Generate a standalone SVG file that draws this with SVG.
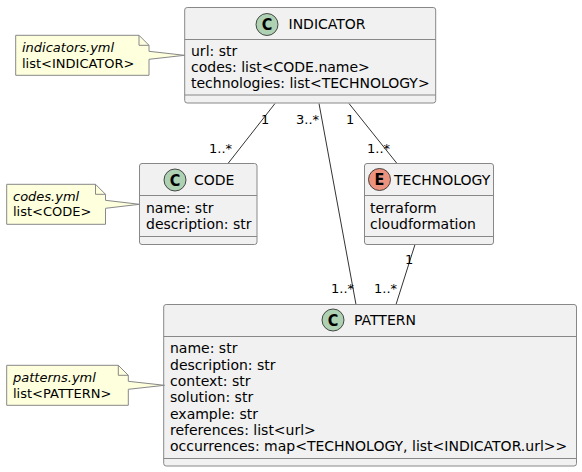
<svg xmlns="http://www.w3.org/2000/svg" width="582" height="472" viewBox="0 0 582 472">
<style>
text{font-family:"DejaVu Sans",sans-serif;font-size:14px;fill:#000}
.box{fill:#F1F1F1;stroke:#888;stroke-width:1}
.sep{stroke:#888;stroke-width:1;fill:none}
.note{fill:#FEFFDD;stroke:#888;stroke-width:1}
.c{fill:#ADD1B2;stroke:#222;stroke-width:.8}
.e{fill:#EB937F;stroke:#222;stroke-width:.8}
text.glyph{font-family:"DejaVu Sans Condensed","DejaVu Sans",sans-serif;font-weight:bold;font-size:16px;text-anchor:middle}
text.n{font-size:13px}
.it{font-style:italic}
text.l{font-size:13px}
.link{stroke:#333;stroke-width:1;fill:none}
</style>
<rect width="582" height="472" fill="#fff"/>
<g id="connectors">
<path class="link" d="M275 103.500L228 163.500"/>
<path class="link" d="M319 103.500L356 304.500"/>
<path class="link" d="M349 103.500L397 163.500"/>
<path class="link" d="M415 244.500L396 304.500"/>
<text class="l" x="261" y="124">1</text><text class="l" x="209" y="153">1..*</text>
<text class="l" x="296" y="124">3..*</text><text class="l" x="331" y="293">1..*</text>
<text class="l" x="346" y="124">1</text><text class="l" x="367" y="153">1..*</text>
<text class="l" x="405" y="264">1</text><text class="l" x="374" y="293">1..*</text>
</g>
<g id="INDICATOR">
<rect class="box" x="184.700" y="7.500" width="251" height="95.500" rx="2.500"/>
<path class="sep" d="M184.700 39.500H435.700M184.700 95H435.700"/>
<circle class="c" cx="267" cy="24.500" r="11"/><text class="glyph" x="267" y="30.300">C</text>
<text x="288.500" y="28.500">INDICATOR</text>
<text x="191" y="56">url: str</text><text x="191" y="72">codes: list&lt;CODE.name&gt;</text><text x="191" y="88">technologies: list&lt;TECHNOLOGY&gt;</text>
</g>
<g id="CODE">
<rect class="box" x="139.500" y="163.500" width="117.500" height="81" rx="2.500"/>
<path class="sep" d="M139.500 195.500H257M139.500 236.500H257"/>
<circle class="c" cx="175" cy="180" r="11"/><text class="glyph" x="175" y="185.800">C</text>
<text x="194" y="185">CODE</text>
<text x="146" y="213">name: str</text><text x="146" y="229">description: str</text>
</g>
<g id="TECHNOLOGY">
<rect class="box" x="364.500" y="163.500" width="129" height="81" rx="2.500"/>
<path class="sep" d="M364.500 195.500H493.500M364.500 236.500H493.500"/>
<circle class="e" cx="379.500" cy="179.500" r="11"/><text class="glyph" x="379.500" y="185.300">E</text>
<text x="394" y="185">TECHNOLOGY</text>
<text x="370" y="213">terraform</text><text x="370" y="229">cloudformation</text>
</g>
<g id="PATTERN">
<rect class="box" x="163.700" y="304.500" width="412.800" height="161.500" rx="2.500"/>
<path class="sep" d="M163.700 336.500H576.500M163.700 458.500H576.500"/>
<circle class="c" cx="333" cy="320" r="11"/><text class="glyph" x="333" y="325.800">C</text>
<text x="354" y="325">PATTERN</text>
<text x="170" y="353">name: str</text><text x="170" y="369.500">description: str</text><text x="170" y="386">context: str</text><text x="170" y="402">solution: str</text><text x="170" y="418.500">example: str</text><text x="170" y="434.500">references: list&lt;url&gt;</text><text x="170" y="451">occurrences: map&lt;TECHNOLOGY, list&lt;INDICATOR.url&gt;&gt;</text>
</g>
<g id="note-indicators">
<path class="note" d="M15.700 35.300H139L149 45.300V51.300L184.500 55.300L149 59.300V75.300H15.700Z"/><path class="sep" d="M139 35.300V45.300H149"/>
<text class="n it" x="22" y="52">indicators.yml</text><text class="n" x="22" y="68">list&lt;INDICATOR&gt;</text>
</g>
<g id="note-codes">
<path class="note" d="M6.700 184.300H95.500L105.500 194.300V200.300L139.500 204.300L105.500 208.300V224.300H6.700Z"/><path class="sep" d="M95.500 184.300V194.300H105.500"/>
<text class="n it" x="13" y="201">codes.yml</text><text class="n" x="13" y="216">list&lt;CODE&gt;</text>
</g>
<g id="note-patterns">
<path class="note" d="M6.700 365.300H118.300L128.300 375.300V381.300L164.500 385.300L128.300 389.300V405.300H6.700Z"/><path class="sep" d="M118.300 365.300V375.300H128.300"/>
<text class="n it" x="13" y="382">patterns.yml</text><text class="n" x="13" y="398">list&lt;PATTERN&gt;</text>
</g>
</svg>
